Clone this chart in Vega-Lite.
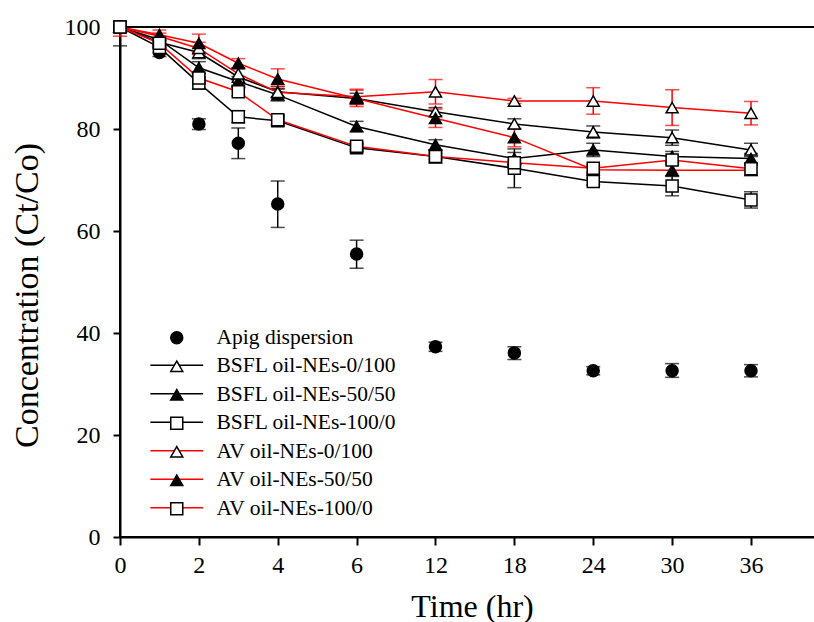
{
  "$schema": "https://vega.github.io/schema/vega-lite/v6.json",
  "autosize": {"type": "none"},
  "padding": {"left": 120, "top": 27, "right": 0, "bottom": 85},
  "width": 696,
  "height": 510,
  "background": "white",
  "config": {
    "view": {"stroke": "black", "strokeWidth": 2},
    "axis": {
      "grid": false,
      "domainColor": "black",
      "domainWidth": 2,
      "tickColor": "black",
      "tickWidth": 2,
      "labelFont": "Liberation Serif",
      "labelFontSize": 24,
      "labelColor": "black",
      "labelFlush": false,
      "titleFont": "Liberation Serif",
      "titleFontSize": 32,
      "titleFontWeight": "normal",
      "titleColor": "black"
    },
    "legend": {
      "labelFont": "Liberation Serif",
      "labelFontSize": 21.5,
      "labelColor": "black",
      "labelLimit": 0,
      "padding": 0
    }
  },
  "datasets": {
    "d": [
      {"s": "Apig dispersion", "t": 0, "v": 100, "lo": 96.3, "hi": 100},
      {"s": "Apig dispersion", "t": 1, "v": 95.0, "lo": 94.2, "hi": 95.8},
      {"s": "Apig dispersion", "t": 2, "v": 81.0, "lo": 79.9, "hi": 82.0},
      {"s": "Apig dispersion", "t": 3, "v": 77.2, "lo": 74.2, "hi": 80.2},
      {"s": "Apig dispersion", "t": 4, "v": 65.3, "lo": 60.7, "hi": 69.8},
      {"s": "Apig dispersion", "t": 6, "v": 55.5, "lo": 52.7, "hi": 58.2},
      {"s": "Apig dispersion", "t": 12, "v": 37.3, "lo": 36.4, "hi": 38.2},
      {"s": "Apig dispersion", "t": 18, "v": 36.1, "lo": 34.8, "hi": 37.3},
      {"s": "Apig dispersion", "t": 24, "v": 32.6, "lo": 31.8, "hi": 33.4},
      {"s": "Apig dispersion", "t": 30, "v": 32.6, "lo": 31.3, "hi": 34.0},
      {"s": "Apig dispersion", "t": 36, "v": 32.6, "lo": 31.4, "hi": 33.8},
      {"s": "BSFL oil-NEs-0/100", "t": 0, "v": 100, "lo": 99, "hi": 100},
      {"s": "BSFL oil-NEs-0/100", "t": 1, "v": 97.0, "lo": 96.2, "hi": 97.8},
      {"s": "BSFL oil-NEs-0/100", "t": 2, "v": 95.0, "lo": 93.8, "hi": 96.2},
      {"s": "BSFL oil-NEs-0/100", "t": 3, "v": 90.2, "lo": 88.6, "hi": 91.8},
      {"s": "BSFL oil-NEs-0/100", "t": 4, "v": 87.3, "lo": 86.3, "hi": 88.3},
      {"s": "BSFL oil-NEs-0/100", "t": 6, "v": 86.0, "lo": 85.0, "hi": 87.0},
      {"s": "BSFL oil-NEs-0/100", "t": 12, "v": 83.4, "lo": 82.6, "hi": 84.2},
      {"s": "BSFL oil-NEs-0/100", "t": 18, "v": 81.0, "lo": 80.0, "hi": 82.0},
      {"s": "BSFL oil-NEs-0/100", "t": 24, "v": 79.4, "lo": 78.2, "hi": 80.6},
      {"s": "BSFL oil-NEs-0/100", "t": 30, "v": 78.3, "lo": 76.8, "hi": 79.8},
      {"s": "BSFL oil-NEs-0/100", "t": 36, "v": 75.9, "lo": 74.6, "hi": 77.2},
      {"s": "BSFL oil-NEs-50/50", "t": 0, "v": 100, "lo": 99, "hi": 100},
      {"s": "BSFL oil-NEs-50/50", "t": 1, "v": 97.5, "lo": null, "hi": null},
      {"s": "BSFL oil-NEs-50/50", "t": 2, "v": 92.0, "lo": 90.8, "hi": 93.2},
      {"s": "BSFL oil-NEs-50/50", "t": 3, "v": 89.3, "lo": 88.3, "hi": 90.3},
      {"s": "BSFL oil-NEs-50/50", "t": 4, "v": 86.7, "lo": 85.5, "hi": 87.9},
      {"s": "BSFL oil-NEs-50/50", "t": 6, "v": 80.5, "lo": 79.5, "hi": 81.5},
      {"s": "BSFL oil-NEs-50/50", "t": 12, "v": 76.9, "lo": 75.9, "hi": 77.9},
      {"s": "BSFL oil-NEs-50/50", "t": 18, "v": 74.2, "lo": 73.0, "hi": 75.4},
      {"s": "BSFL oil-NEs-50/50", "t": 24, "v": 75.9, "lo": 74.6, "hi": 77.2},
      {"s": "BSFL oil-NEs-50/50", "t": 30, "v": 74.6, "lo": 73.6, "hi": 75.6},
      {"s": "BSFL oil-NEs-50/50", "t": 36, "v": 74.2, "lo": 73.2, "hi": 75.2},
      {"s": "BSFL oil-NEs-100/0", "t": 0, "v": 100, "lo": 99, "hi": 100},
      {"s": "BSFL oil-NEs-100/0", "t": 1, "v": 96.0, "lo": null, "hi": null},
      {"s": "BSFL oil-NEs-100/0", "t": 2, "v": 89.0, "lo": 87.8, "hi": 90.2},
      {"s": "BSFL oil-NEs-100/0", "t": 3, "v": 82.4, "lo": 81.2, "hi": 83.6},
      {"s": "BSFL oil-NEs-100/0", "t": 4, "v": 81.6, "lo": 80.6, "hi": 82.6},
      {"s": "BSFL oil-NEs-100/0", "t": 6, "v": 76.3, "lo": 75.6, "hi": 77.0},
      {"s": "BSFL oil-NEs-100/0", "t": 12, "v": 74.6, "lo": 73.3, "hi": 75.9},
      {"s": "BSFL oil-NEs-100/0", "t": 18, "v": 72.3, "lo": 68.5, "hi": 76.1},
      {"s": "BSFL oil-NEs-100/0", "t": 24, "v": 69.7, "lo": 69.0, "hi": 70.4},
      {"s": "BSFL oil-NEs-100/0", "t": 30, "v": 68.8, "lo": 66.9, "hi": 70.7},
      {"s": "BSFL oil-NEs-100/0", "t": 36, "v": 66.1, "lo": 64.5, "hi": 67.7},
      {"s": "AV oil-NEs-0/100", "t": 0, "v": 100, "lo": 99.5, "hi": 100},
      {"s": "AV oil-NEs-0/100", "t": 1, "v": 98.2, "lo": 97.6, "hi": 98.8},
      {"s": "AV oil-NEs-0/100", "t": 2, "v": 95.8, "lo": 94.6, "hi": 97.0},
      {"s": "AV oil-NEs-0/100", "t": 3, "v": 90.8, "lo": 89.6, "hi": 92.0},
      {"s": "AV oil-NEs-0/100", "t": 4, "v": 87.2, "lo": 86.0, "hi": 88.4},
      {"s": "AV oil-NEs-0/100", "t": 6, "v": 86.3, "lo": 84.8, "hi": 87.8},
      {"s": "AV oil-NEs-0/100", "t": 12, "v": 87.3, "lo": 84.9, "hi": 89.7},
      {"s": "AV oil-NEs-0/100", "t": 18, "v": 85.5, "lo": 85.0, "hi": 86.0},
      {"s": "AV oil-NEs-0/100", "t": 24, "v": 85.5, "lo": 82.9, "hi": 88.1},
      {"s": "AV oil-NEs-0/100", "t": 30, "v": 84.2, "lo": 80.7, "hi": 87.7},
      {"s": "AV oil-NEs-0/100", "t": 36, "v": 83.1, "lo": 80.8, "hi": 85.4},
      {"s": "AV oil-NEs-50/50", "t": 0, "v": 100, "lo": 98.2, "hi": 100},
      {"s": "AV oil-NEs-50/50", "t": 1, "v": 98.5, "lo": 97.8, "hi": 99.4},
      {"s": "AV oil-NEs-50/50", "t": 2, "v": 96.8, "lo": 95.0, "hi": 98.6},
      {"s": "AV oil-NEs-50/50", "t": 3, "v": 92.9, "lo": 92.0, "hi": 93.8},
      {"s": "AV oil-NEs-50/50", "t": 4, "v": 89.8, "lo": 87.8, "hi": 91.8},
      {"s": "AV oil-NEs-50/50", "t": 6, "v": 86.0, "lo": 84.4, "hi": 87.6},
      {"s": "AV oil-NEs-50/50", "t": 12, "v": 82.1, "lo": 80.3, "hi": 83.9},
      {"s": "AV oil-NEs-50/50", "t": 18, "v": 78.3, "lo": 76.5, "hi": 80.1},
      {"s": "AV oil-NEs-50/50", "t": 24, "v": 72.0, "lo": 71.3, "hi": 72.7},
      {"s": "AV oil-NEs-50/50", "t": 30, "v": 71.9, "lo": 70.8, "hi": 73.0},
      {"s": "AV oil-NEs-50/50", "t": 36, "v": 71.9, "lo": 70.9, "hi": 72.9},
      {"s": "AV oil-NEs-100/0", "t": 0, "v": 100, "lo": 99.5, "hi": 100},
      {"s": "AV oil-NEs-100/0", "t": 1, "v": 96.8, "lo": 96.2, "hi": 97.4},
      {"s": "AV oil-NEs-100/0", "t": 2, "v": 90.0, "lo": 89.2, "hi": 90.8},
      {"s": "AV oil-NEs-100/0", "t": 3, "v": 87.3, "lo": 86.5, "hi": 88.1},
      {"s": "AV oil-NEs-100/0", "t": 4, "v": 81.8, "lo": 81.0, "hi": 82.6},
      {"s": "AV oil-NEs-100/0", "t": 6, "v": 76.6, "lo": 76.0, "hi": 77.2},
      {"s": "AV oil-NEs-100/0", "t": 12, "v": 74.6, "lo": 74.0, "hi": 75.2},
      {"s": "AV oil-NEs-100/0", "t": 18, "v": 73.4, "lo": 72.9, "hi": 73.9},
      {"s": "AV oil-NEs-100/0", "t": 24, "v": 72.3, "lo": 71.6, "hi": 73.0},
      {"s": "AV oil-NEs-100/0", "t": 30, "v": 73.9, "lo": 73.2, "hi": 74.6},
      {"s": "AV oil-NEs-100/0", "t": 36, "v": 72.2, "lo": 71.5, "hi": 72.9}
    ]
  },
  "data": {"name": "d"},
  "encoding": {
    "x": {
      "field": "t",
      "type": "quantitative",
      "scale": {"domain": [0, 6, 36, 41.1], "range": [0, 236.6, 631, 696], "nice": false, "zero": false},
      "axis": {
        "values": [0, 2, 4, 6, 12, 18, 24, 30, 36],
        "title": "Time (hr)",
        "tickSize": 8,
        "labelPadding": 8,
        "titleX": 352,
        "titleY": 79,
        "titleBaseline": "alphabetic"
      }
    }
  },
  "layer": [
    {
      "mark": {"type": "rule", "strokeWidth": 1.5},
      "encoding": {
        "y": {"field": "lo", "type": "quantitative"},
        "y2": {"field": "hi"},
        "color": {
          "field": "s",
          "type": "nominal",
          "scale": {
            "domain": ["AV oil-NEs-0/100", "AV oil-NEs-50/50", "AV oil-NEs-100/0", "Apig dispersion", "BSFL oil-NEs-0/100", "BSFL oil-NEs-50/50", "BSFL oil-NEs-100/0"],
            "range": ["red", "red", "red", "black", "black", "black", "black"]
          },
          "legend": null
        }
      }
    },
    {
      "mark": {"type": "tick", "orient": "horizontal", "size": 14, "thickness": 1.5},
      "encoding": {
        "y": {"field": "lo", "type": "quantitative"},
        "color": {"field": "s", "type": "nominal", "legend": null}
      }
    },
    {
      "mark": {"type": "tick", "orient": "horizontal", "size": 14, "thickness": 1.5},
      "encoding": {
        "y": {"field": "hi", "type": "quantitative"},
        "color": {"field": "s", "type": "nominal", "legend": null}
      }
    },
    {
      "transform": [{"filter": "datum.s != 'Apig dispersion'"}],
      "mark": {"type": "line", "strokeWidth": 1.5},
      "encoding": {
        "y": {"field": "v", "type": "quantitative"},
        "stroke": {
          "field": "s",
          "type": "nominal",
          "scale": {
            "domain": ["BSFL oil-NEs-0/100", "BSFL oil-NEs-50/50", "BSFL oil-NEs-100/0", "AV oil-NEs-0/100", "AV oil-NEs-50/50", "AV oil-NEs-100/0"],
            "range": ["black", "black", "black", "red", "red", "red"]
          },
          "legend": {
            "orient": "none",
            "legendX": 46,
            "legendY": 327.5,
            "title": null,
            "symbolType": "M-4.4,0L4.4,0",
            "symbolSize": 144,
            "symbolStrokeWidth": 1.5,
            "symbolFillColor": "transparent",
            "labelOpacity": 0,
            "labelOffset": 29,
            "rowPadding": 5.5,
            "zindex": 0
          }
        }
      }
    },
    {
      "mark": {"type": "point", "filled": true, "stroke": "black", "strokeWidth": 1.5, "size": 144, "opacity": 1},
      "encoding": {
        "y": {
          "field": "v",
          "type": "quantitative",
          "scale": {"domain": [0, 100], "nice": false},
          "axis": {
            "values": [0, 20, 40, 60, 80, 100],
            "title": "Concentration (Ct/Co)",
            "titleFontSize": 34,
            "tickSize": 7,
            "labelPadding": 13,
            "titleX": -83,
            "titleY": 268,
            "titleAngle": -90,
            "titleBaseline": "alphabetic"
          }
        },
        "shape": {
          "field": "s",
          "type": "nominal",
          "scale": {
            "domain": ["Apig dispersion", "BSFL oil-NEs-0/100", "BSFL oil-NEs-50/50", "BSFL oil-NEs-100/0", "AV oil-NEs-0/100", "AV oil-NEs-50/50", "AV oil-NEs-100/0"],
            "range": ["circle", "triangle-up", "triangle-up", "square", "triangle-up", "triangle-up", "square"]
          },
          "legend": {
            "orient": "none",
            "legendX": 46,
            "legendY": 300,
            "title": null,
            "symbolSize": 144,
            "symbolStrokeWidth": 1.5,
            "symbolStrokeColor": "black",
            "labelOffset": 29,
            "labelLimit": 0,
            "rowPadding": 5.5,
            "zindex": 1,
            "encoding": {"symbols": {"stroke": {"value": "black"}, "strokeWidth": {"value": 1.5}}}
          }
        },
        "fill": {
          "field": "s",
          "type": "nominal",
          "scale": {
            "domain": ["Apig dispersion", "BSFL oil-NEs-0/100", "BSFL oil-NEs-50/50", "BSFL oil-NEs-100/0", "AV oil-NEs-0/100", "AV oil-NEs-50/50", "AV oil-NEs-100/0"],
            "range": ["black", "white", "black", "white", "white", "black", "white"]
          },
          "legend": {
            "orient": "none",
            "legendX": 46,
            "legendY": 300,
            "title": null,
            "symbolSize": 144,
            "symbolStrokeWidth": 1.5,
            "symbolStrokeColor": "black",
            "labelOffset": 29,
            "labelLimit": 0,
            "rowPadding": 5.5,
            "zindex": 1,
            "encoding": {"symbols": {"stroke": {"value": "black"}, "strokeWidth": {"value": 1.5}}}
          }
        }
      }
    }
  ]
}
